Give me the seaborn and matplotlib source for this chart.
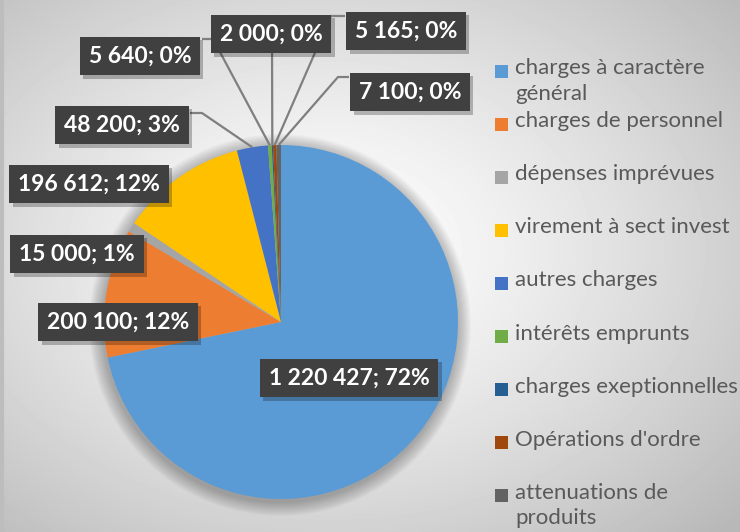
import matplotlib.patheffects as pe
import matplotlib.pyplot as plt
import numpy as np
import seaborn as sns

# data
categories = [
    "charges à caractère\ngénéral",
    "charges de personnel",
    "dépenses imprévues",
    "virement à sect invest",
    "autres charges",
    "intérêts emprunts",
    "charges exeptionnelles",
    "Opérations d'ordre",
    "attenuations de\nproduits",
]
values = [1220427, 200100, 15000, 196612, 48200, 5640, 2000, 5165, 7100]
colors = ["#5B9BD5", "#ED7D31", "#A5A5A5", "#FFC000", "#4472C4",
          "#70AD47", "#255E91", "#9E480E", "#636363"]

W, H = 740, 532
CX, CY, R = 281, 322, 177

# label box centres (pixels from top-left) and leader elbows
label_pos = [(349, 378), (118, 322), (77, 254), (89, 184), (122, 125),
             (140, 56), (271, 34), (406, 31), (410, 92)]
leaders = {
    4: [(202, 113), (190, 113)],
    5: [(213, 39), (202, 39)],
    6: [(272, 40)],
    7: [(331, 16), (345, 16)],
    8: [(338, 77), (349, 77)],
}


def py(y):
    return H - y


sns.set_theme(style="white")
plt.rcParams["font.family"] = ["Lato", "DejaVu Sans"]

fig = plt.figure(figsize=(W / 100, H / 100), dpi=100)

# radial grey background
bg = fig.add_axes([0, 0, 1, 1])
yy, xx = np.mgrid[0:H, 0:W]
dist = np.hypot((xx - 330) / W, (yy - 250) / H)
shade = 1.0 - 0.28 * np.clip(dist / 0.75, 0, 1) ** 1.3
bg.imshow(shade, cmap="gray", vmin=0, vmax=1, extent=(0, W, 0, H), aspect="auto")
bg.axvline(1.5, color="#bdbdbd", lw=3)
bg.set_axis_off()

ax = fig.add_axes([0, 0, 1, 1])
ax.patch.set_alpha(0)
ax.set_aspect("equal")

# soft shadow under the pie
for k in range(14):
    ax.add_patch(plt.Circle((CX - 1, py(CY) - 3), R + 14 - k, color="black",
                            alpha=0.018, lw=0, zorder=0))

wedges, _ = ax.pie(values, colors=colors, startangle=90, counterclock=False,
                   center=(CX, py(CY)), radius=R, frame=True,
                   wedgeprops=dict(linewidth=0))
ax.set_xlim(0, W)
ax.set_ylim(0, H)
ax.set_axis_off()

total = sum(values)
for i, (v, w) in enumerate(zip(values, wedges)):
    pct = round(v / total * 100)
    txt = f"{v:,}".replace(",", " ") + f"; {pct}%"
    lx, ly = label_pos[i]
    if i in leaders:
        mid = np.deg2rad((w.theta1 + w.theta2) / 2)
        ex, ey = CX + R * np.cos(mid), py(CY) + R * np.sin(mid)
        pts = [(ex, ey)] + [(x, py(y)) for x, y in leaders[i]]
        ax.plot([p[0] for p in pts], [p[1] for p in pts], color="#7f7f7f",
                lw=1.6, zorder=3, solid_capstyle="butt")
    t = ax.text(lx, py(ly), txt, ha="center", va="center", fontsize=16.5,
                fontweight="bold", color="white", zorder=5,
                bbox=dict(boxstyle="square,pad=0.38", fc="#404040", ec="none"))
    t.get_bbox_patch().set_path_effects(
        [pe.SimplePatchShadow(offset=(2.5, -2.5), shadow_rgbFace="black", alpha=0.25),
         pe.Normal()])

# legend drawn by hand so wrapped labels keep the marker on the first line
for i, (lab, c) in enumerate(zip(categories, colors)):
    y = 71 + i * 53.1
    ax.add_patch(plt.Rectangle((495, py(y) - 6.5), 13, 13, color=c, lw=0, zorder=5))
    ax.text(515, py(y - 13), lab, ha="left", va="top", fontsize=16,
            color="#595959", linespacing=1.35, zorder=5)

fig.savefig("out.png", dpi=100)
